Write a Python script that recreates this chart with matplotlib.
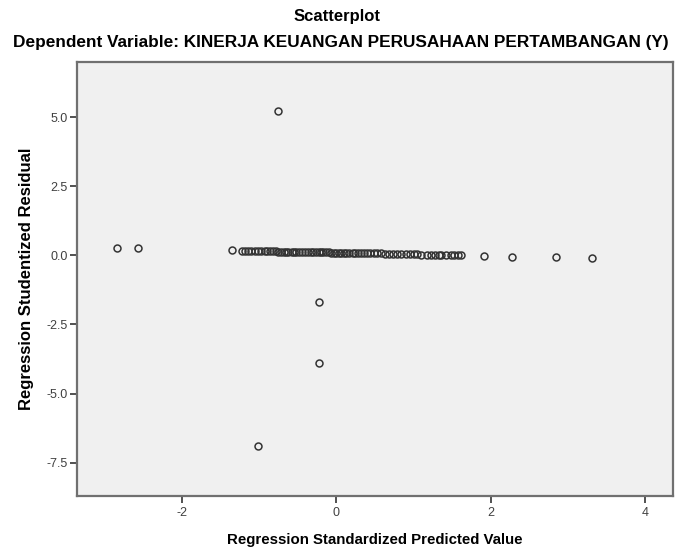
import matplotlib
matplotlib.use("Agg")
import matplotlib.pyplot as plt

plt.rcParams['font.family'] = ['Liberation Sans', 'DejaVu Sans']

# Regression standardized predicted values (x) and studentized residuals (y)
pred = [-2.84, -2.57, -1.35,
        -1.22, -1.18, -1.14, -1.10, -1.06, -1.02, -0.97, -0.93, -0.90, -0.86,
        -0.82, -0.78, -0.75, -0.72, -0.68, -0.65, -0.62, -0.58, -0.55, -0.52,
        -0.48, -0.44, -0.40, -0.37, -0.33, -0.30, -0.26, -0.23, -0.20, -0.17,
        -0.13, -0.10, -0.07, -0.03, 0.00, 0.03, 0.06, 0.10, 0.13, 0.17, 0.21,
        0.24, 0.28, 0.32, 0.36, 0.40, 0.44, 0.49, 0.53, 0.58, 0.63, 0.68, 0.73,
        0.78, 0.84, 0.90, 0.95, 1.00, 1.04, 1.10, 1.17, 1.22, 1.28, 1.33, 1.36,
        1.42, 1.48, 1.53, 1.57, 1.62,
        1.91, 2.27, 2.84, 3.31,
        -0.75, -0.22, -0.22, -1.01]
resid = [0.28, 0.27, 0.18,
         0.17, 0.17, 0.17, 0.16, 0.16, 0.16, 0.16, 0.15, 0.15, 0.15,
         0.15, 0.15, 0.14, 0.14, 0.14, 0.14, 0.14, 0.13, 0.13, 0.13,
         0.13, 0.13, 0.12, 0.12, 0.12, 0.12, 0.12, 0.11, 0.11, 0.11,
         0.11, 0.11, 0.10, 0.10, 0.10, 0.10, 0.10, 0.09, 0.09, 0.09, 0.09,
         0.09, 0.08, 0.08, 0.08, 0.08, 0.07, 0.07, 0.07, 0.07, 0.06, 0.06, 0.06,
         0.05, 0.05, 0.05, 0.04, 0.04, 0.04, 0.03, 0.03, 0.03, 0.02, 0.02, 0.02,
         0.01, 0.01, 0.01, 0.00, 0.00,
         -0.02, -0.04, -0.07, -0.10,
         5.23, -1.70, -3.90, -6.90]

xticks = [-2, 0, 2, 4]
yticks = [-7.5, -5.0, -2.5, 0.0, 2.5, 5.0]
ytick_labels = ['-7.5', '-5.0', '-2.5', '0.0', '2.5', '5.0']

title = 'Scatterplot'
subtitle = 'Dependent Variable: KINERJA KEUANGAN PERUSAHAAN PERTAMBANGAN (Y)'
xlabel = 'Regression Standardized Predicted Value'
ylabel = 'Regression Studentized Residual'

fig = plt.figure(figsize=(6.75, 5.49), dpi=100)
fig.patch.set_facecolor('white')
ax = fig.add_axes([0.114, 0.097, 0.883, 0.790])
ax.set_facecolor('#f0f0f0')

ax.plot(pred, resid, linestyle='none', marker='o', markersize=5.0,
        markerfacecolor='none', markeredgecolor='#333333', markeredgewidth=1.1)

ax.set_xlim(-3.36, 4.36)
ax.set_ylim(-8.7, 7.0)
ax.set_xticks(xticks)
ax.set_xticklabels([str(t) for t in xticks])
ax.set_yticks(yticks)
ax.set_yticklabels(ytick_labels)

for s in ax.spines.values():
    s.set_color('#707070')
    s.set_linewidth(1.6)

ax.tick_params(axis='both', direction='out', length=5, width=1.2,
               color='#333333', labelsize=9, labelcolor='#404040', pad=1.5)
ax.tick_params(axis='x', pad=3)

ax.set_xlabel(xlabel, fontsize=10.8, fontweight='bold', labelpad=10)
ax.set_ylabel(ylabel, fontsize=12, fontweight='bold', labelpad=9)

fig.text(0.5, 1 - 17 / 549, title, ha='center', va='center',
         fontsize=12, fontweight='bold')
fig.text(0.505, 1 - 43 / 549, subtitle, ha='center', va='center',
         fontsize=12.4, fontweight='bold')

fig.savefig('out.png', dpi=100)
